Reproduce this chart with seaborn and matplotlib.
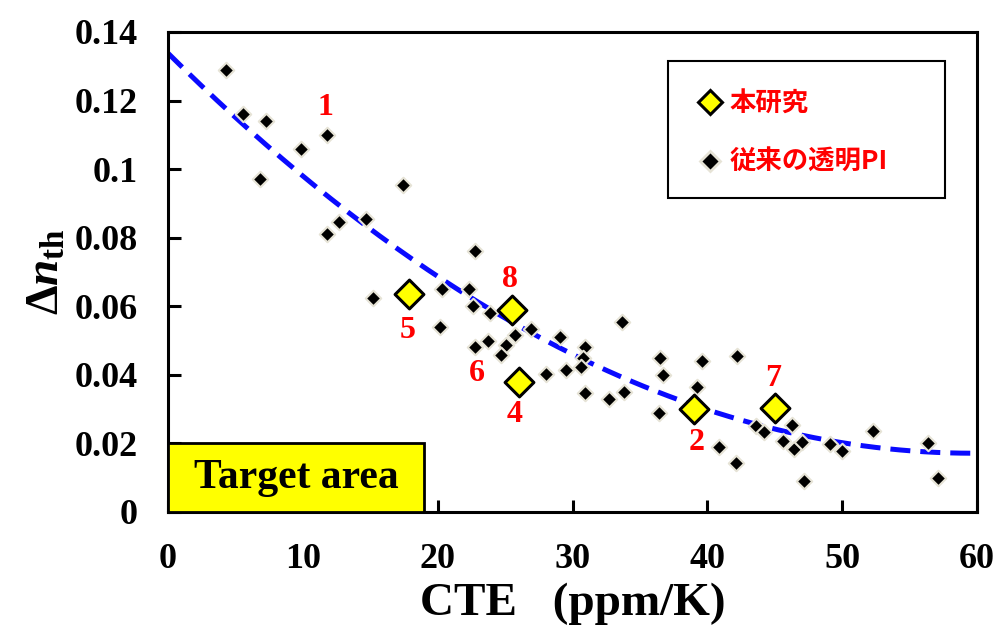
import matplotlib
matplotlib.use("Agg")
import matplotlib.pyplot as plt
import matplotlib.patches as mpatches
from matplotlib.lines import Line2D
import seaborn as sns
import numpy as np
import pandas as pd

# conventional transparent PI (black diamonds)
prior_cte = [4.3, 5.6, 7.3, 9.9, 11.8, 6.8, 17.4, 11.8, 12.7, 14.7,
             15.2, 20.3, 20.2, 22.8, 22.3, 22.6, 23.9, 26.9, 25.7, 29.1,
             23.7, 22.8, 25.1, 24.7, 30.9, 33.7, 30.8, 29.5, 30.6, 28.0,
             36.5, 36.7, 39.6, 42.2, 30.9, 32.7, 33.8, 39.2, 36.4, 40.9,
             42.1, 43.6, 44.2, 46.3, 45.6, 46.4, 47.0, 47.2, 49.1, 50.0,
             52.3, 56.4, 57.1]
prior_dn = [0.129, 0.116, 0.114, 0.106, 0.110, 0.097, 0.0955, 0.081, 0.0845, 0.0855,
            0.0625, 0.065, 0.054, 0.076, 0.065, 0.060, 0.058, 0.0535, 0.0515, 0.051,
            0.050, 0.048, 0.0487, 0.0458, 0.048, 0.0554, 0.045, 0.0414, 0.0423, 0.0403,
            0.045, 0.040, 0.044, 0.0455, 0.0347, 0.033, 0.035, 0.0365, 0.029, 0.019,
            0.0143, 0.025, 0.0233, 0.0254, 0.0207, 0.0184, 0.0204, 0.009, 0.0198, 0.0178,
            0.0236, 0.020, 0.010]

# this work (yellow diamonds)
this_cte = [17.9, 25.5, 26.0, 39.0, 45.0]
this_dn = [0.0636, 0.059, 0.038, 0.030, 0.0303]

# sample numbers
num_labels = ["1", "8", "5", "6", "4", "2", "7"]
num_x = [11.7, 25.4, 17.8, 22.9, 25.7, 39.2, 44.9]
num_y = [0.118, 0.0677, 0.053, 0.0405, 0.0283, 0.0204, 0.039]

# trend curve
trend_x = [0, 5, 9.3, 13.25, 20.2, 30.8, 36.5, 39, 42.4, 48.9, 56.3, 60]
trend_y = [0.133, 0.1155, 0.1017, 0.0876, 0.0672, 0.0448, 0.0341, 0.0317, 0.0268, 0.021, 0.0176, 0.0171]

sns.set_style("ticks")
plt.rcParams['font.family'] = ['Liberation Serif', 'Noto Sans CJK JP']
plt.rcParams['font.weight'] = 'bold'
plt.rcParams['text.color'] = 'black'
plt.rcParams['axes.labelcolor'] = 'black'
plt.rcParams['axes.edgecolor'] = 'black'
plt.rcParams['xtick.color'] = 'black'
plt.rcParams['ytick.color'] = 'black'
plt.rcParams['mathtext.fontset'] = 'custom'
plt.rcParams['mathtext.rm'] = 'Liberation Serif:bold'
plt.rcParams['mathtext.it'] = 'Liberation Serif:bold:italic'
plt.rcParams['mathtext.bf'] = 'Liberation Serif:bold'

fig = plt.figure(figsize=(9.98, 6.32), dpi=100)
ax = fig.add_axes([0.1683, 0.1899, 0.8107, 0.7595])

coef = np.polyfit(trend_x, trend_y, 2)
xs = np.linspace(0, 60, 200)
trend = pd.DataFrame({"x": xs, "y": np.polyval(coef, xs)})
sns.lineplot(data=trend, x="x", y="y", ax=ax, color="#0a0aff", lw=3.6,
             dashes=False, zorder=2)
ax.lines[-1].set_dashes((4, 2))

prior = pd.DataFrame({"x": prior_cte, "y": prior_dn})
this = pd.DataFrame({"x": this_cte, "y": this_dn})
sns.scatterplot(data=prior, x="x", y="y", ax=ax, marker="D", s=62,
                color="black", edgecolor="#e6e3d6", linewidth=1.5, zorder=3)
sns.scatterplot(data=this, x="x", y="y", ax=ax, marker="D", s=215,
                color="#ffff00", edgecolor="black", linewidth=2.2, zorder=4)

for t, x, y in zip(num_labels, num_x, num_y):
    ax.text(x, y, t, color="red", fontsize=23, fontweight="bold",
            ha="center", va="center", zorder=5)

# target area box
ax.add_patch(mpatches.Rectangle((0, 0), 19.0, 0.0201, facecolor="#ffff00",
                                edgecolor="black", lw=2, zorder=5, clip_on=False))
ax.text(9.5, 0.0100, "Target area", fontsize=30, fontweight="bold",
        ha="center", va="center", zorder=6)

# legend
ax.add_patch(mpatches.Rectangle((0.618, 0.654), 0.342, 0.2855, transform=ax.transAxes,
                                facecolor="white", edgecolor="black", lw=1.5, zorder=6))
handles = [
    Line2D([], [], ls="none", marker="D", ms=12, mfc="#ffff00", mec="black", mew=2.2),
    Line2D([], [], ls="none", marker="D", ms=10, mfc="black", mec="#e6e3d6", mew=2),
]
leg = ax.legend(handles, ["本研究", "従来の透明PI"], loc="upper left",
                bbox_to_anchor=(0.631, 0.922), frameon=False,
                prop={"family": ["Noto Sans CJK JP"], "weight": "bold", "size": 19},
                handlelength=0.8, handletextpad=0.35, labelspacing=1.2, borderpad=0.3)
leg.set_zorder(7)
for t in leg.get_texts():
    t.set_color("red")

ax.set_xlim(0, 60)
ax.set_ylim(0, 0.14)
ax.set_xticks(range(0, 61, 10))
ax.set_yticks([0, 0.02, 0.04, 0.06, 0.08, 0.1, 0.12, 0.14])
ax.set_yticklabels(["0", "0.02", "0.04", "0.06", "0.08", "0.1", "0.12", "0.14"])
ax.tick_params(direction="in", length=9, width=2.2, labelsize=26, pad=22)
for sp in ax.spines.values():
    sp.set_visible(True)
    sp.set_linewidth(2.2)
ax.set_xlabel("CTE   (ppm/K)", fontsize=34, fontweight="bold", labelpad=5)
ax.set_ylabel(r"$\Delta n_{\rm th}$", fontsize=34, labelpad=4)

fig.savefig("out.png", dpi=100)
